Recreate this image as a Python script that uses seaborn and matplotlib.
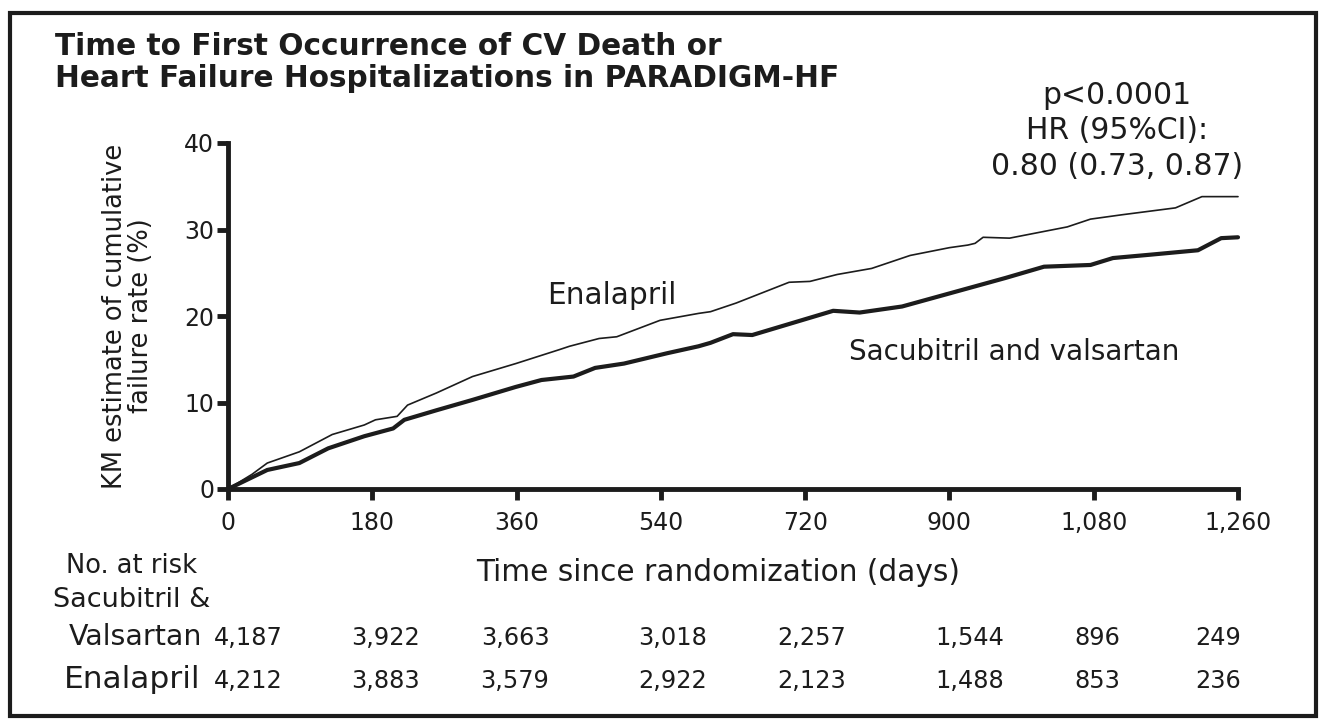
import numpy as np
import pandas as pd
import matplotlib
matplotlib.use("Agg")
import matplotlib.pyplot as plt
import matplotlib.patches as patches
import seaborn as sns

# KM curves (days, cumulative failure rate %)
days_ena = [0, 30, 49, 89, 130, 170, 184, 211, 224, 260, 305, 359, 413, 426, 463, 485,
            539, 587, 602, 634, 700, 726, 760, 803, 851, 900, 923, 932, 942, 975, 1047,
            1076, 1115, 1182, 1215, 1260]
rate_ena = [0, 1.7, 3.0, 4.3, 6.3, 7.4, 8.0, 8.4, 9.7, 11.1, 13.0, 14.5, 16.1, 16.5, 17.4, 17.6,
            19.5, 20.3, 20.5, 21.5, 23.9, 24.0, 24.8, 25.5, 27.0, 27.9, 28.2, 28.4, 29.1, 29.0, 30.3,
            31.2, 31.7, 32.5, 33.8, 33.8]

days_sac = [0, 49, 89, 125, 170, 206, 220, 260, 305, 359, 391, 431, 458, 494, 548, 587,
            602, 630, 654, 755, 788, 841, 970, 1018, 1076, 1104, 1152, 1210, 1239, 1260]
rate_sac = [0, 2.2, 3.0, 4.7, 6.1, 7.0, 8.0, 9.1, 10.3, 11.8, 12.6, 13.0, 14.0, 14.5, 15.7, 16.5,
            16.9, 17.9, 17.8, 20.6, 20.4, 21.1, 24.4, 25.7, 25.9, 26.7, 27.1, 27.6, 29.0, 29.1]

# number at risk table
risk_days = [0, 180, 360, 540, 720, 900, 1080, 1260]
risk_sac = ["4,187", "3,922", "3,663", "3,018", "2,257", "1,544", "896", "249"]
risk_ena = ["4,212", "3,883", "3,579", "2,922", "2,123", "1,488", "853", "236"]
x_ticks = [0, 180, 360, 540, 720, 900, 1080, 1260]
x_ticklabels = ["0", "180", "360", "540", "720", "900", "1,080", "1,260"]
y_ticks = [0, 10, 20, 30, 40]

# small horizontal nudges of the at-risk numbers (in days), layout only
risk_nudge = [25, 16, -2, 15, 8, 25, 5, -25]

sns.set_theme(style="white")
plt.rcParams['font.family'] = ['DejaVu Sans']
ink = "#1c1c1c"

fig = plt.figure(figsize=(13.2, 7.27), dpi=100)
ax = fig.add_axes([228/1320, 1-489/727, 1010/1320, 346/727])

df_ena = pd.DataFrame({"day": days_ena, "rate": rate_ena})
df_sac = pd.DataFrame({"day": days_sac, "rate": rate_sac})
sns.lineplot(data=df_ena, x="day", y="rate", ax=ax, color=ink, linewidth=1.2, sort=False)
sns.lineplot(data=df_sac, x="day", y="rate", ax=ax, color=ink, linewidth=3.0, sort=False)

ax.set_xlim(0, 1260)
ax.set_ylim(0, 40)
ax.set_xticks(x_ticks)
ax.set_xticklabels(x_ticklabels)
ax.set_yticks(y_ticks)
for s in ["top", "right"]:
    ax.spines[s].set_visible(False)
for s in ["left", "bottom"]:
    ax.spines[s].set_linewidth(3.5)
    ax.spines[s].set_color(ink)
ax.tick_params(axis="both", direction="out", length=8, width=3.5, color=ink,
               labelcolor=ink, bottom=True, left=True)
ax.tick_params(axis="x", labelsize=17, pad=8)
ax.tick_params(axis="y", labelsize=17, pad=2)
ax.patch.set_alpha(0)
for line in ax.lines:
    line.set_clip_on(False)

ax.set_ylabel("KM estimate of cumulative\nfailure rate (%)", fontsize=18.5, color=ink,
              linespacing=1.0)
ax.yaxis.label.set_va("center")
ax.yaxis.set_label_coords(-0.099, 0.5)
ax.set_xlabel("Time since randomization (days)", fontsize=21.3, color=ink)
ax.xaxis.label.set_va("center")
ax.xaxis.set_label_coords(0.485, -0.24)

# curve labels
ax.text(479, 22.4, "Enalapril", fontsize=21.3, color=ink, ha="center", va="center")
ax.text(981, 15.8, "Sacubitril and valsartan", fontsize=20, color=ink, ha="center", va="center")

# title and HR box
fig.text(55/1320, 1-32/727, "Time to First Occurrence of CV Death or\n"
         "Heart Failure Hospitalizations in PARADIGM-HF",
         fontsize=21.3, fontweight="bold", color=ink, va="top", ha="left", linespacing=1.12)
fig.text(1117/1320, 1-81/727, "p<0.0001\nHR (95%CI):\n0.80 (0.73, 0.87)",
         fontsize=21.5, color=ink, va="top", ha="center", multialignment="center",
         linespacing=1.28)

# number at risk
tr = ax.get_xaxis_transform()
ax.text(-0.095, -0.2225, "No. at risk", transform=ax.transAxes, fontsize=18.5, color=ink,
        ha="center", va="center")
ax.text(-0.095, -0.321, "Sacubitril &", transform=ax.transAxes, fontsize=19.5, color=ink,
        ha="center", va="center")
ax.text(-0.092, -0.428, "Valsartan", transform=ax.transAxes, fontsize=20.5, color=ink,
        ha="center", va="center")
ax.text(-0.095, -0.552, "Enalapril", transform=ax.transAxes, fontsize=22.5, color=ink,
        ha="center", va="center")
for d, nud, a, b in zip(risk_days, risk_nudge, risk_sac, risk_ena):
    ax.text(d + nud, -0.43, a, transform=tr, fontsize=17.3, color=ink, ha="center", va="center")
    ax.text(d + nud, -0.554, b, transform=tr, fontsize=17.3, color=ink, ha="center", va="center")

# frame around the whole figure
fig.patches.append(patches.Rectangle((10/1320, 11/727), 1306/1320, 703/727, fill=False,
                                     linewidth=3, edgecolor=ink, transform=fig.transFigure))

fig.savefig("out.png", dpi=100)
